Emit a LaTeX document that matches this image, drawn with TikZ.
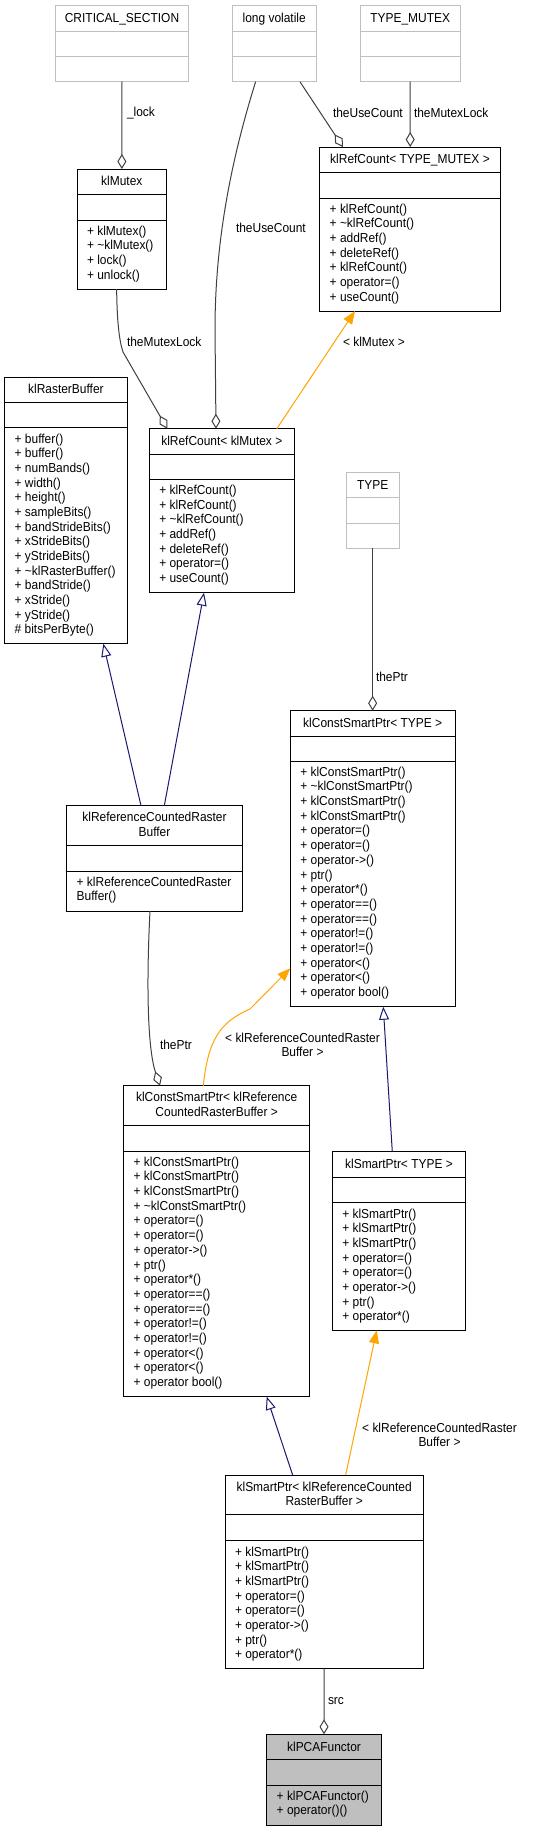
\documentclass[tikz,border=0pt]{standalone}
\usepackage{fontspec}
\setmainfont{Liberation Sans}[FakeStretch=0.92]
\usetikzlibrary{arrows.meta}
\definecolor{extgray}{HTML}{BFBFBF}
\definecolor{edgegray}{HTML}{404040}
\definecolor{navyblue}{HTML}{191970}
\definecolor{tmplorange}{HTML}{FFA500}
\definecolor{focusfill}{HTML}{BFBFBF}
\tikzset{
 cls/.style={rectangle, draw=black, line width=1pt, inner sep=0pt, outer sep=0pt, fill=white},
 clsdiv/.style={draw=black, line width=1pt},
 ext/.style={rectangle, draw=extgray, line width=1pt, inner sep=0pt, outer sep=0pt, fill=white},
 extdiv/.style={draw=extgray, line width=1pt},
 focus/.style={rectangle, draw=black, line width=1pt, inner sep=0pt, outer sep=0pt, fill=focusfill},
 focusdiv/.style={draw=black, line width=1pt},
 txt/.style={inner sep=0pt, outer sep=0pt},
 lbl/.style={inner sep=0pt, outer sep=0pt},
 agg/.style={draw=edgegray, line width=1pt, -{Diamond[open, length=15pt, width=9pt]}},
 inh/.style={draw=navyblue, line width=1pt, -{Triangle[open, length=13pt, width=10pt]}},
 tmpl/.style={draw=tmplorange, line width=1pt, -{Triangle[length=13pt, width=10pt]}},
}
\newcommand\classframe[8]{%
  \node[#2, minimum width={(#5-#3)*1pt}, minimum height={(#6-#4)*1pt}] (#1) at ({(#3+#5)/2},{(#4+#6)/2}) {};
  \draw[#2div] (#3,#7) -- (#5,#7) (#3,#8) -- (#5,#8);
}
\newcommand\ctitle[4]{\node[txt, anchor=base] (#1) at (#2,#3) {#4};}
\newcommand\cmembers[4]{%
  \foreach \m [count=\i] in {#4} {\node[txt, anchor=base west] (#1-\i) at (#2,{#3+(\i-1)*14.67}) {\m};}
}
\begin{document}
\begin{tikzpicture}[x=1pt, y=-1pt, font=\fontsize{13}{14.67}\selectfont]
\path[fill=white, use as bounding box] (0,0) rectangle (559,1832);

% external classes
\classframe{cs}{ext}{55.7}{5.7}{188.3}{81.7}{31.3}{56.7}
\ctitle{cs-t}{122}{22.5}{CRITICAL\_SECTION}
\classframe{lv}{ext}{232.3}{5.7}{316}{81.7}{31.3}{56.7}
\ctitle{lv-t}{274.2}{22.5}{long volatile}
\classframe{tm}{ext}{360}{5.7}{460.3}{81.7}{31.3}{56.7}
\ctitle{tm-t}{410.2}{22.5}{TYPE\_MUTEX}
\classframe{ty}{ext}{346.3}{472.7}{399}{548.3}{497.7}{523.3}
\ctitle{ty-t}{372.7}{489.5}{TYPE}

% klMutex
\classframe{km}{cls}{77}{169}{166.7}{289}{194.7}{220}
\ctitle{km-t}{121.8}{185.8}{klMutex}
\cmembers{km}{87}{235.3}{+ klMutex(),+ \textasciitilde klMutex(),+ lock(),+ unlock()}

% klRefCount< TYPE_MUTEX >
\classframe{rctm}{cls}{319.7}{147}{500.3}{311}{172.7}{198}
\ctitle{rctm-t}{410}{163.8}{klRefCount< TYPE\_MUTEX >}
\cmembers{rctm}{329.7}{213.3}{+ klRefCount(),+ \textasciitilde klRefCount(),+ addRef(),+ deleteRef(),+ klRefCount(),+ operator=(),+ useCount()}

% klRasterBuffer
\classframe{rb}{cls}{4.7}{377}{127}{643.7}{402.3}{427.7}
\ctitle{rb-t}{65.9}{393.8}{klRasterBuffer}
\cmembers{rb}{14.7}{443}{+ buffer(),+ buffer(),+ numBands(),+ width(),+ height(),+ sampleBits(),+ bandStrideBits(),+ xStrideBits(),+ yStrideBits(),+ \textasciitilde klRasterBuffer(),+ bandStride(),+ xStride(),+ yStride(),\# bitsPerByte()}

% klRefCount< klMutex >
\classframe{rcm}{cls}{149.3}{428.7}{294.3}{592.7}{454}{479.3}
\ctitle{rcm-t}{221.8}{445.5}{klRefCount< klMutex >}
\cmembers{rcm}{159.3}{494.6}{+ klRefCount(),+ klRefCount(),+ \textasciitilde klRefCount(),+ addRef(),+ deleteRef(),+ operator=(),+ useCount()}

% klConstSmartPtr< TYPE >
\classframe{cspT}{cls}{290.3}{710.7}{455}{1006.7}{736}{761}
\ctitle{cspT-t}{372.7}{727.5}{klConstSmartPtr< TYPE >}
\cmembers{cspT}{300.3}{776.3}{+ klConstSmartPtr(),+ \textasciitilde klConstSmartPtr(),+ klConstSmartPtr(),+ klConstSmartPtr(),+ operator=(),+ operator=(),+ operator->(),+ ptr(),+ operator*(),+ operator==(),+ operator==(),+ operator!=(),+ operator!=(),+ operator<(),+ operator<(),+ operator bool()}

% klReferenceCountedRasterBuffer
\classframe{rcrb}{cls}{66.7}{805.7}{242.3}{911}{845.7}{871}
\ctitle{rcrb-t1}{154.5}{821.7}{klReferenceCountedRaster}
\ctitle{rcrb-t2}{154.5}{836.7}{Buffer}
\cmembers{rcrb}{76.7}{886.3}{+ klReferenceCountedRaster,Buffer()}

% klConstSmartPtr< klReferenceCountedRasterBuffer >
\classframe{cspr}{cls}{123.7}{1085.7}{309.7}{1396.7}{1125.7}{1151}
\ctitle{cspr-t1}{216.7}{1101.7}{klConstSmartPtr< klReference}
\ctitle{cspr-t2}{216.7}{1116.7}{CountedRasterBuffer >}
\cmembers{cspr}{133.7}{1166.3}{+ klConstSmartPtr(),+ klConstSmartPtr(),+ klConstSmartPtr(),+ \textasciitilde klConstSmartPtr(),+ operator=(),+ operator=(),+ operator->(),+ ptr(),+ operator*(),+ operator==(),+ operator==(),+ operator!=(),+ operator!=(),+ operator<(),+ operator<(),+ operator bool()}

% klSmartPtr< TYPE >
\classframe{spT}{cls}{332.3}{1151.7}{465.7}{1330.3}{1177.3}{1202.7}
\ctitle{spT-t}{399}{1168.5}{klSmartPtr< TYPE >}
\cmembers{spT}{342.3}{1218}{+ klSmartPtr(),+ klSmartPtr(),+ klSmartPtr(),+ operator=(),+ operator=(),+ operator->(),+ ptr(),+ operator*()}

% klSmartPtr< klReferenceCountedRasterBuffer >
\classframe{spr}{cls}{225}{1475}{423.3}{1668.7}{1514.7}{1540.7}
\ctitle{spr-t1}{324.2}{1491}{klSmartPtr< klReferenceCounted}
\ctitle{spr-t2}{324.2}{1505.7}{RasterBuffer >}
\cmembers{spr}{235}{1556}{+ klSmartPtr(),+ klSmartPtr(),+ klSmartPtr(),+ operator=(),+ operator=(),+ operator->(),+ ptr(),+ operator*()}

% klPCAFunctor
\classframe{pca}{focus}{266.7}{1734.3}{381.3}{1825.3}{1759.7}{1785}
\ctitle{pca-t}{324}{1751}{klPCAFunctor}
\cmembers{pca}{276.7}{1800.3}{+ klPCAFunctor(),+ operator()()}

% connectors
\draw[agg] (cs.south) -- (km.north);
\draw[agg] ([xshift=25.8pt]lv.south) -- ([xshift=-67pt]rctm.north);
\draw[agg] (tm.south) -- ([xshift=0.2pt]rctm.north);
\draw[agg] ([xshift=-18.5pt]lv.south) .. controls (228,170) and (215,250) .. (215,330) -- ([xshift=-5.8pt]rcm.north);
\draw[agg] ([xshift=-5.2pt]km.south) .. controls (117,320) and (119,340) .. (123,352) -- ([xshift=18pt]rcm.north west);
\draw[tmpl] ([xshift=55pt]rcm.north) -- ([xshift=-55pt]rctm.south);
\draw[inh] ([xshift=-13.5pt]rcrb.north) -- ([xshift=37.5pt]rb.south);
\draw[inh] ([xshift=9.8pt]rcrb.north) -- ([xshift=-17.8pt]rcm.south);
\draw[agg] (ty.south) -- (cspT.north);
\draw[agg] ([xshift=-4.5pt]rcrb.south) .. controls (146,990) and (148,1050) .. ([xshift=-56.7pt]cspr.north);
\draw[tmpl] ([xshift=-13.4pt]cspr.north) .. controls (208,1040) and (220,1022) .. (250,1009) -- ([yshift=38.4pt]cspT.south west);
\draw[inh] ([xshift=-6.7pt]spT.north) -- ([xshift=10.6pt]cspT.south);
\draw[inh] ([xshift=-31.5pt]spr.north) -- ([xshift=50pt]cspr.south);
\draw[tmpl] ([xshift=21.5pt]spr.north) -- ([xshift=-22.3pt]spT.south);
\draw[agg] (spr.south) -- (pca.north);

% connector labels
\node[lbl, anchor=west] (lb1) at (127,113) {\_lock};
\node[lbl, anchor=west] (lb2) at (333,113) {theUseCount};
\node[lbl, anchor=west] (lb3) at (414,113) {theMutexLock};
\node[lbl, anchor=west] (lb4) at (236,228) {theUseCount};
\node[lbl, anchor=west] (lb5) at (127,342) {theMutexLock};
\node[lbl, anchor=west] (lb6) at (343,342) {< klMutex >};
\node[lbl, anchor=west] (lb7) at (376,677) {thePtr};
\node[lbl, anchor=west] (lb8) at (160,1045) {thePtr};
\node[lbl, align=center, font=\fontsize{13}{13.8}\selectfont] (lb9) at (302.5,1045) {< klReferenceCountedRaster\\Buffer >};
\node[lbl, align=center, font=\fontsize{13}{14.6}\selectfont] (lb10) at (439.5,1435) {< klReferenceCountedRaster\\Buffer >};
\node[lbl, anchor=west] (lb11) at (328,1700.7) {src};
\end{tikzpicture}
\end{document}
